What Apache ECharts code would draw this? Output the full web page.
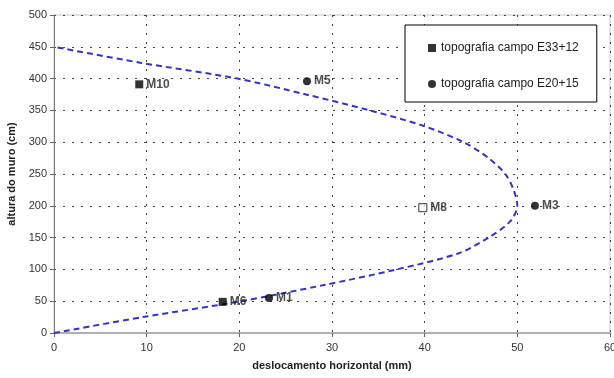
<!DOCTYPE html>
<html>
<head>
<meta charset="utf-8">
<script src="https://cdn.jsdelivr.net/npm/echarts@6/dist/echarts.min.js"></script>
<style>html,body{margin:0;padding:0;background:#fff}#c{width:614px;height:378px}</style>
</head>
<body>
<div id="c"></div>
<script>
// Curve (dashed blue): horizontal displacement (mm) vs wall height (cm)
const curveX = [0, 9.6, 20.2, 29, 37, 43.6, 46.9, 49.2, 50, 49.6, 48.7, 46.9, 44.2, 40, 34.1, 27.2, 19.8, 9.3, 0];
const curveY = [0, 25, 50, 75, 100, 125, 150, 175, 200, 225, 250, 275, 300, 325, 350, 375, 400, 425, 450];
// topografia campo E33+12 (squares)
const sqNames = ['M10', 'M6'];
const sqX = [9.2, 18.2];
const sqY = [391, 49];
// open square
const openNames = ['M8'];
const openX = [39.8];
const openY = [197];
// topografia campo E20+15 (circles)
const ciNames = ['M5', 'M3', 'M1'];
const ciX = [27.3, 51.9, 23.2];
const ciY = [396, 200, 55];

const xTicks = [0, 10, 20, 30, 40, 50, 60];
const yTicks = [0, 50, 100, 150, 200, 250, 300, 350, 400, 450, 500];

const legendNames = ['topografia campo E33+12', 'topografia campo E20+15'];

function pts(names, xs, ys) { return names.map((n, i) => ({ name: n, value: [xs[i], ys[i]] })); }

const font = 'Liberation Sans, Arial, sans-serif';
const lbl = { show: true, position: 'right', distance: 3, formatter: p => p.name, color: '#222', fontSize: 12, fontWeight: 'bold', fontFamily: font };
const gridLine = { show: true, lineStyle: { color: '#444', type: [2, 7], width: 1 } };

const chart = echarts.init(document.getElementById('c'));
chart.setOption({
  animation: false,
  backgroundColor: '#fff',
  grid: { left: 54, right: 4, top: 15, bottom: 45, show: true, borderColor: '#c8c8c8', borderWidth: 1, outerBoundsMode: 'none', containLabel: false },
  legend: {
    orient: 'vertical', left: 405, top: 25,
    padding: [17, 18, 12, 23],
    itemWidth: 8, itemHeight: 8, itemGap: 24,
    borderColor: '#000', borderWidth: 1, backgroundColor: '#fff',
    textStyle: { fontSize: 12, color: '#222', fontFamily: font },
    data: [{ name: legendNames[0], icon: 'rect' }, { name: legendNames[1], icon: 'circle' }]
  },
  xAxis: {
    type: 'value', min: xTicks[0], max: xTicks[xTicks.length - 1], interval: 10,
    name: 'deslocamento horizontal (mm)', nameLocation: 'middle', nameGap: 27,
    nameTextStyle: { fontSize: 11, fontWeight: 'bold', color: '#222', fontFamily: font },
    axisLine: { lineStyle: { color: '#b0b0b0', width: 2 } },
    axisTick: { show: true, length: 4, lineStyle: { color: '#666' } },
    axisLabel: { fontSize: 11, color: '#333', margin: 9, fontFamily: font },
    splitLine: gridLine
  },
  yAxis: {
    type: 'value', min: yTicks[0], max: yTicks[yTicks.length - 1], interval: 50,
    name: 'altura do muro (cm)', nameLocation: 'middle', nameGap: 35, nameRotate: 90,
    nameTextStyle: { fontSize: 11, fontWeight: 'bold', color: '#222', fontFamily: font },
    axisLine: { show: true, lineStyle: { color: '#777', width: 1 } },
    axisTick: { show: true, length: 4, lineStyle: { color: '#666' } },
    axisLabel: { fontSize: 11, color: '#333', margin: 7, fontFamily: font },
    splitLine: gridLine
  },
  series: [
    {
      type: 'line', name: 'curve', data: curveX.map((x, i) => [x, curveY[i]]),
      smooth: 0.3, showSymbol: false, symbol: 'none',
      lineStyle: { color: '#3434c4', width: 2, type: [6, 4] }, z: 3
    },
    {
      type: 'scatter', name: legendNames[0], symbol: 'rect', symbolSize: 8,
      itemStyle: { color: '#000' }, data: pts(sqNames, sqX, sqY), label: lbl, z: 5
    },
    {
      type: 'scatter', name: 'open', symbol: 'rect', symbolSize: 8,
      itemStyle: { color: '#fff', borderColor: '#000', borderWidth: 1 }, data: pts(openNames, openX, openY), label: lbl, z: 5
    },
    {
      type: 'scatter', name: legendNames[1], symbol: 'circle', symbolSize: 8,
      itemStyle: { color: '#000' }, data: pts(ciNames, ciX, ciY), label: lbl, z: 5
    }
  ]
});
</script>
</body>
</html>
